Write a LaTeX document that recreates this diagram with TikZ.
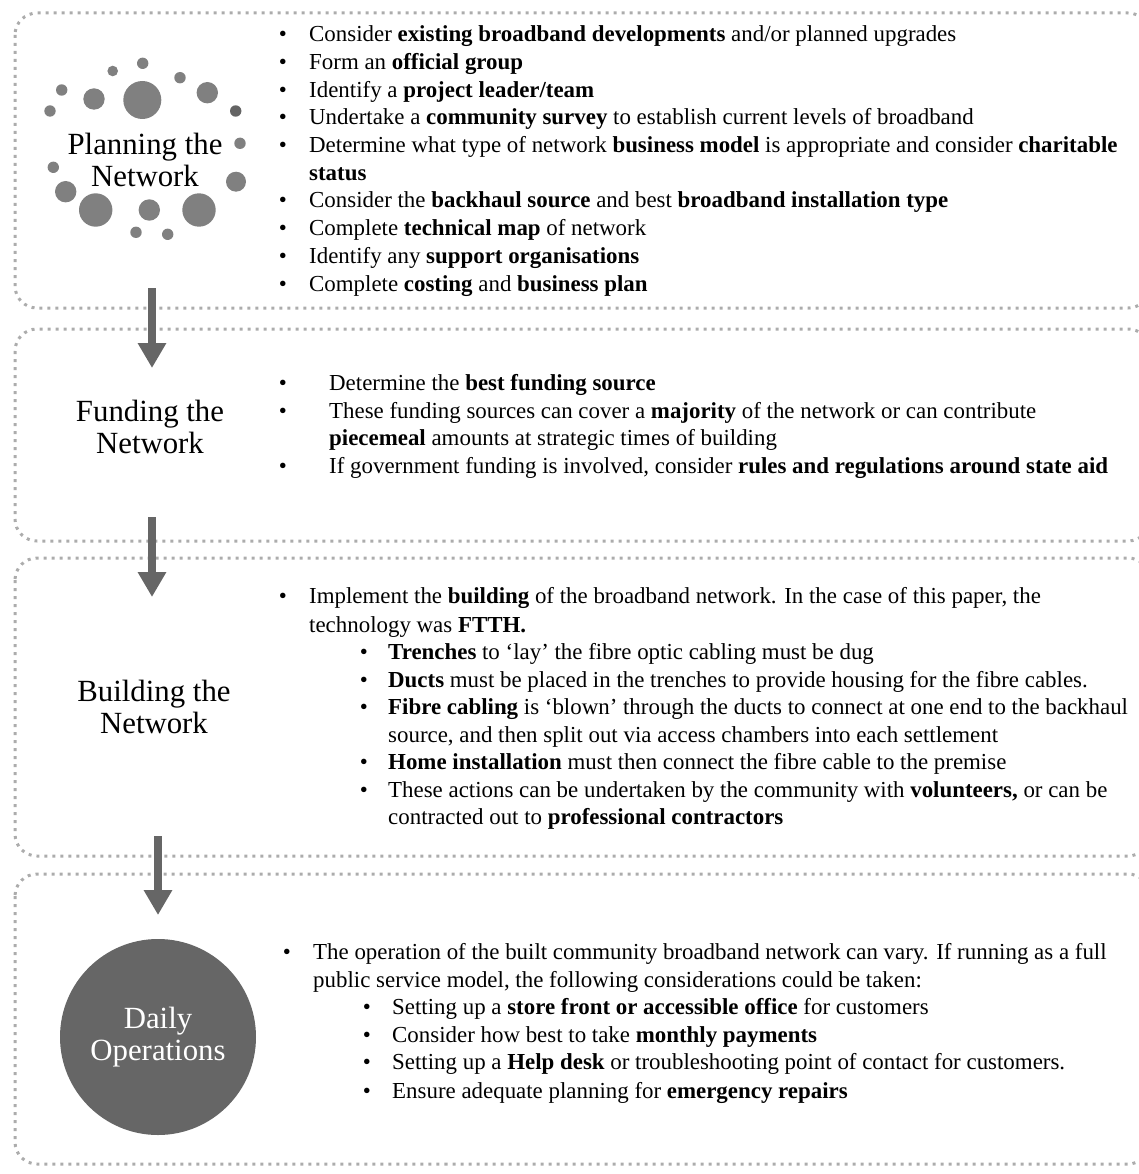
\documentclass[tikz,border=0pt]{standalone}
\usepackage{fontspec}
\setmainfont{Liberation Serif}
\usetikzlibrary{arrows.meta}
\definecolor{panelgray}{RGB}{172,172,172}
\definecolor{dotgray}{RGB}{128,128,128}
\definecolor{darkdot}{RGB}{100,100,100}
\definecolor{arrowgray}{RGB}{102,102,102}
\tikzset{
  panel/.style={draw=panelgray, line width=3pt, dash pattern=on 3pt off 5pt, rounded corners=22pt, inner sep=0pt},
  flow/.style={draw=arrowgray, line width=8.7pt, -{Triangle[width=27pt,length=25pt]}},
  txt/.style={anchor=base west, inner sep=0pt, font=\fontsize{22.9}{27}\selectfont},
  bul/.style={anchor=base, inner sep=0pt, font=\fontsize{22.9}{27}\selectfont},
  lbl/.style={align=center, inner sep=0pt, font=\fontsize{30.8}{32.5}\selectfont},
}
\begin{document}
\begin{tikzpicture}[x=1pt,y=-1pt]
\useasboundingbox (0,0) rectangle (1139,1174);
\clip (0,0) rectangle (1139,1174);
% panels
\draw[panel] (15,13) rectangle (1150,308);
\draw[panel] (15,329) rectangle (1150,541);
\draw[panel] (15,558) rectangle (1150,856);
\draw[panel] (15,874) rectangle (1150,1164);
% decoration dots
\fill[dotgray] (142.7,63.3) circle (5.7);
\fill[dotgray] (112.7,71) circle (5.3);
\fill[dotgray] (180,77.7) circle (5.7);
\fill[dotgray] (61.7,90) circle (5.7);
\fill[dotgray] (94,99) circle (10.7);
\fill[dotgray] (142.3,100) circle (19);
\fill[dotgray] (207.3,92.7) circle (10.7);
\fill[dotgray] (50,111) circle (5.7);
\fill[darkdot] (235.7,111) circle (5.7);
\fill[dotgray] (240,143.3) circle (5.7);
\fill[dotgray] (53.3,167.3) circle (5.7);
\fill[dotgray] (236,181.7) circle (10);
\fill[dotgray] (65.7,191.7) circle (10.7);
\fill[dotgray] (95.7,210) circle (16.7);
\fill[dotgray] (149.3,210) circle (10.7);
\fill[dotgray] (199,210) circle (16.7);
\fill[dotgray] (136,232.3) circle (5.7);
\fill[dotgray] (167.7,234.3) circle (5.7);
% labels
\node[lbl] (plan) at (145,160) {Planning the\\Network};
\node[lbl] (fund) at (150,427) {Funding the\\Network};
\node[lbl] (build) at (154,707) {Building the\\Network};
\node[circle, fill=arrowgray, minimum size=196pt, inner sep=0pt] (daily) at (158,1037) {};
\node[lbl, text=white] (dailyt) at (daily.center) {Daily\\Operations};
% arrows
\coordinate (a1s) at (152,288); \coordinate (a1e) at (152,368);
\coordinate (a2s) at (152,517); \coordinate (a2e) at (152,597);
\coordinate (a3s) at (158,836); \coordinate (a3e) at (158,915);
\draw[flow] (a1s) -- (a1e);
\draw[flow] (a2s) -- (a2e);
\draw[flow] (a3s) -- (a3e);
% box 1
\node[bul] (d11) at (283,42) {•};
\node[txt] (t11) at (309,42) {Consider \textbf{existing broadband developments} and/or planned upgrades};
\node[bul] (d12) at (283,70) {•};
\node[txt] (t12) at (309,70) {Form an \textbf{official group}};
\node[bul] (d13) at (283,98) {•};
\node[txt] (t13) at (309,98) {Identify a \textbf{project leader/team}};
\node[bul] (d14) at (283,125) {•};
\node[txt] (t14) at (309,125) {Undertake a \textbf{community survey} to establish current levels of broadband};
\node[bul] (d15) at (283,153) {•};
\node[txt] (t15) at (309,153) {Determine what type of network \textbf{business model} is appropriate and consider \textbf{charitable}};
\node[txt] (t16) at (309,181) {\textbf{status}};
\node[bul] (d17) at (283,208) {•};
\node[txt] (t17) at (309,208) {Consider the \textbf{backhaul source} and best \textbf{broadband installation type}};
\node[bul] (d18) at (283,236) {•};
\node[txt] (t18) at (309,236) {Complete \textbf{technical map} of network};
\node[bul] (d19) at (283,263) {•};
\node[txt] (t19) at (309,263) {Identify any \textbf{support organisations}};
\node[bul] (d110) at (283,291) {•};
\node[txt] (t110) at (309,291) {Complete \textbf{costing} and \textbf{business plan}};
% box 2
\node[bul] (d21) at (283,390) {•};
\node[txt] (t21) at (329,390) {Determine the \textbf{best funding source}};
\node[bul] (d22) at (283,418) {•};
\node[txt] (t22) at (329,418) {These funding sources can cover a \textbf{majority} of the network or can contribute};
\node[txt] (t23) at (329,445) {\textbf{piecemeal} amounts at strategic times of building};
\node[bul] (d24) at (283,473) {•};
\node[txt] (t24) at (329,473) {If government funding is involved, consider \textbf{rules and regulations around state aid}};
% box 3
\node[bul] (d31) at (283,603) {•};
\node[txt] (t31) at (309,603) {Implement the \textbf{building} of the broadband network. In the case of this paper, the};
\node[txt] (t32) at (309,632) {technology was \textbf{FTTH.}};
\node[bul] (d33) at (364,659) {•};
\node[txt] (t33) at (388,659) {\textbf{Trenches} to ‘lay’ the fibre optic cabling must be dug};
\node[bul] (d34) at (364,687) {•};
\node[txt] (t34) at (388,687) {\textbf{Ducts} must be placed in the trenches to provide housing for the fibre cables.};
\node[bul] (d35) at (364,714) {•};
\node[txt] (t35) at (388,714) {\textbf{Fibre cabling} is ‘blown’ through the ducts to connect at one end to the backhaul};
\node[txt] (t36) at (388,742) {source, and then split out via access chambers into each settlement};
\node[bul] (d37) at (364,769) {•};
\node[txt] (t37) at (388,769) {\textbf{Home installation} must then connect the fibre cable to the premise};
\node[bul] (d38) at (364,797) {•};
\node[txt] (t38) at (388,797) {These actions can be undertaken by the community with \textbf{volunteers,} or can be};
\node[txt] (t39) at (388,824) {contracted out to \textbf{professional contractors}};
% box 4
\node[bul] (d41) at (287,959) {•};
\node[txt] (t41) at (313,959) {The operation of the built community broadband network can vary. If running as a full};
\node[txt] (t42) at (313,987) {public service model, the following considerations could be taken:};
\node[bul] (d43) at (367,1014) {•};
\node[txt] (t43) at (392,1014) {Setting up a \textbf{store front or accessible office} for customers};
\node[bul] (d44) at (367,1042) {•};
\node[txt] (t44) at (392,1042) {Consider how best to take \textbf{monthly payments}};
\node[bul] (d45) at (367,1069) {•};
\node[txt] (t45) at (392,1069) {Setting up a \textbf{Help desk} or troubleshooting point of contact for customers.};
\node[bul] (d46) at (367,1098) {•};
\node[txt] (t46) at (392,1098) {Ensure adequate planning for \textbf{emergency repairs}};
\end{tikzpicture}
\end{document}
